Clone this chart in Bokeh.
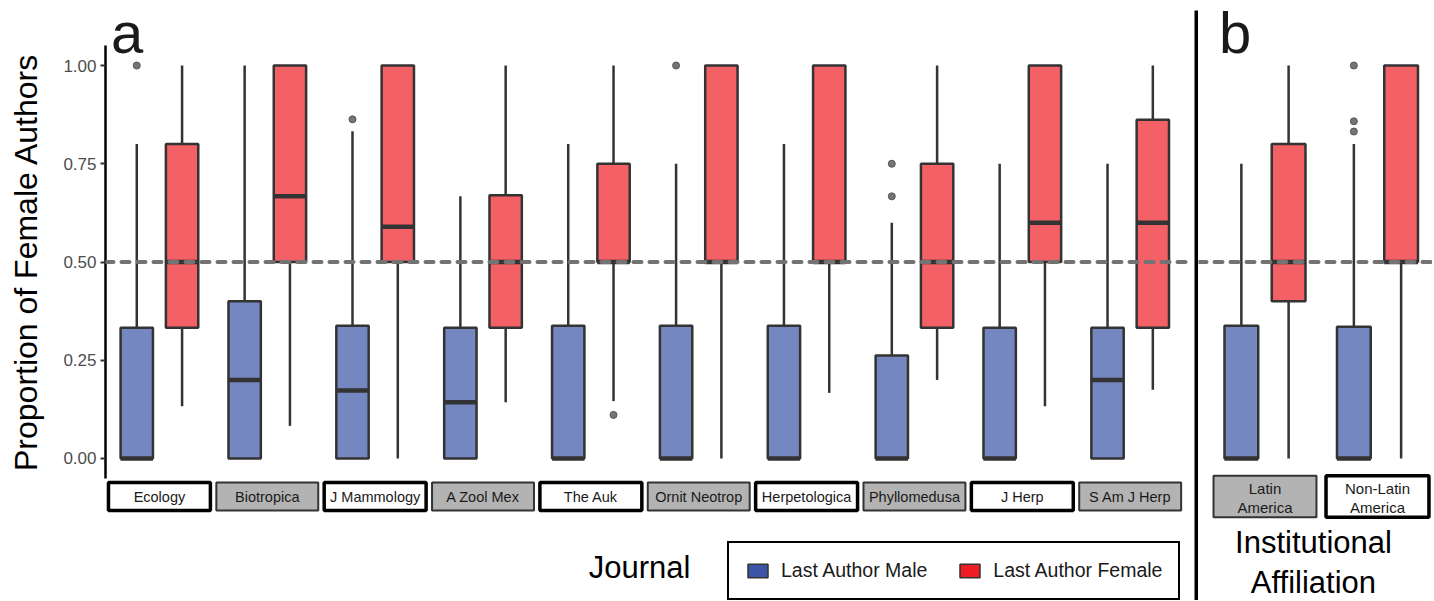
import numpy as np
from bokeh.plotting import figure
from bokeh.models import Range1d, Span, Label, Legend, LegendItem, FixedTicker, NumeralTickFormatter
from bokeh.layouts import row, column
from bokeh.embed import file_html
from bokeh.resources import INLINE
from bokeh.core.properties import value

# ---------------- data ----------------
journals = ["Ecology", "Biotropica", "J Mammology", "A Zool Mex", "The Auk",
            "Ornit Neotrop", "Herpetologica", "Phyllomedusa", "J Herp", "S Am J Herp"]
journal_strip_fill = ["white", "#B3B3B3"] * 5

# Last author male (blue)
male_lower = [0, 0, 0, 0, 0, 0, 0, 0, 0, 0]
male_q1 = [0, 0, 0, 0, 0, 0, 0, 0, 0, 0]
male_median = [0, 0.2, 0.173, 0.143, 0, 0, 0, 0, 0, 0.2]
male_q3 = [0.333, 0.4, 0.338, 0.333, 0.338, 0.338, 0.338, 0.262, 0.333, 0.333]
male_upper = [0.8, 1.0, 0.833, 0.667, 0.8, 0.75, 0.8, 0.6, 0.75, 0.75]
male_out_journal = ["Ecology", "J Mammology", "Ornit Neotrop", "Phyllomedusa", "Phyllomedusa"]
male_out_value = [1.0, 0.863, 1.0, 0.75, 0.667]

# Last author female (red)
female_lower = [0.133, 0.083, 0, 0.143, 0.146, 0, 0.167, 0.2, 0.133, 0.175]
female_q1 = [0.333, 0.5, 0.5, 0.333, 0.5, 0.5, 0.5, 0.333, 0.5, 0.333]
female_median = [0.5, 0.667, 0.59, 0.5, 0.5, 0.5, 0.5, 0.5, 0.6, 0.6]
female_q3 = [0.8, 1.0, 1.0, 0.67, 0.75, 1.0, 1.0, 0.75, 1.0, 0.862]
female_upper = [1.0, 1.0, 1.0, 1.0, 1.0, 1.0, 1.0, 1.0, 1.0, 1.0]
female_out_journal = ["The Auk"]
female_out_value = [0.111]

# Panel b: institutional affiliation
affil = ["Latin\nAmerica", "Non-Latin\nAmerica"]
affil_strip_fill = ["#B3B3B3", "white"]
aff_male_lower = [0, 0]
aff_male_q1 = [0, 0]
aff_male_median = [0, 0]
aff_male_q3 = [0.338, 0.335]
aff_male_upper = [0.75, 0.8]
aff_male_out_group = ["Non-Latin\nAmerica"] * 3
aff_male_out_value = [1.0, 0.858, 0.832]
aff_female_lower = [0, 0]
aff_female_q1 = [0.4, 0.5]
aff_female_median = [0.5, 0.5]
aff_female_q3 = [0.8, 1.0]
aff_female_upper = [1.0, 1.0]

y_ticks = [0, 0.25, 0.5, 0.75, 1.0]
reference_line = 0.5

# ---------------- style ----------------
BLUE = "#3B54A5"
RED = "#EE1D25"
EDGE = "#333333"
FONT = "Liberation Sans"
OFFSET = 0.21
BOX_W = 0.30
STRIP_Y = -0.0967


def draw_boxes(p, xs, lower, q1, med, q3, upper, color):
    xs = np.asarray(xs, dtype=float)
    p.segment(x0=xs, y0=q3, x1=xs, y1=upper, line_color=EDGE, line_width=2.5)
    p.segment(x0=xs, y0=lower, x1=xs, y1=q1, line_color=EDGE, line_width=2.5)
    p.vbar(x=xs, width=BOX_W, bottom=q1, top=q3, fill_color=color, fill_alpha=0.7,
           line_color=EDGE, line_width=2.5)
    p.segment(x0=xs - BOX_W / 2, y0=med, x1=xs + BOX_W / 2, y1=med,
              line_color=EDGE, line_width=4.5)


def draw_outliers(p, xs, vals):
    p.scatter(x=xs, y=vals, size=7, fill_color="#757575", line_color="#555555",
              line_width=1)


def style_common(p):
    p.outline_line_color = None
    p.xgrid.visible = False
    p.ygrid.visible = False
    p.background_fill_color = "white"
    p.border_fill_color = "white"


y_range = Range1d(-0.1654, 1.1654)

# ---------------- panel a ----------------
fig_a = figure(width=1194, height=523, x_range=Range1d(-0.5, 9.55), y_range=y_range,
               output_backend="svg", toolbar_location=None, title=None,
               min_border_left=105, min_border_right=5, min_border_top=0, min_border_bottom=0,
               x_axis_location=None)
style_common(fig_a)
idx = np.arange(len(journals))
jpos = {j: i for i, j in enumerate(journals)}
draw_boxes(fig_a, idx - OFFSET, male_lower, male_q1, male_median, male_q3, male_upper, BLUE)
draw_boxes(fig_a, idx + OFFSET, female_lower, female_q1, female_median, female_q3, female_upper, RED)
draw_outliers(fig_a, [jpos[j] - OFFSET for j in male_out_journal], male_out_value)
draw_outliers(fig_a, [jpos[j] + OFFSET for j in female_out_journal], female_out_value)

# facet strips under each journal
strip_lw = [3.5 if f == "white" else 2 for f in journal_strip_fill]
strip_lc = ["black" if f == "white" else EDGE for f in journal_strip_fill]
fig_a.rect(x=idx, y=STRIP_Y, width=0.945, height=0.0712, fill_color=journal_strip_fill,
           line_color=strip_lc, line_width=strip_lw)
fig_a.text(x=idx, y=STRIP_Y, text=journals, text_font=value(FONT), text_font_size="14.5px",
           text_align="center", text_baseline="middle", text_color="#1a1a1a")

yax = fig_a.yaxis[0]
yax.bounds = (-0.05, 1.05)
yax.ticker = FixedTicker(ticks=y_ticks)
yax.formatter = NumeralTickFormatter(format="0.00")
yax.minor_tick_line_color = None
yax.axis_line_color = "black"
yax.axis_line_width = 2.5
yax.major_tick_line_color = EDGE
yax.major_tick_line_width = 2
yax.major_tick_out = 5
yax.major_tick_in = 0
yax.major_label_text_font = FONT
yax.major_label_text_font_size = "17px"
yax.major_label_text_color = "#4D4D4D"
yax.major_label_standoff = 4
yax.axis_label = "Proportion of Female Authors"
yax.axis_label_text_font = FONT
yax.axis_label_text_font_size = "32px"
yax.axis_label_text_font_style = "normal"
yax.axis_label_text_color = "black"
yax.axis_label_standoff = 16

fig_a.add_layout(Span(location=reference_line, dimension="width", line_color="#737373",
                      line_width=4, line_dash="8 8", line_cap="round"))
fig_a.add_layout(Label(x=-0.449, y=1.0852, text="a", text_font=FONT, text_font_size="58px",
                       text_baseline="alphabetic", text_color="#1a1a1a"))

# bottom of panel a: axis title and legend
fig_a_bot = figure(width=1194, height=77, x_range=fig_a.x_range, y_range=Range1d(77, 0),
                   output_backend="svg", toolbar_location=None, title=None,
                   min_border_left=105, min_border_right=5, min_border_top=0, min_border_bottom=0,
                   x_axis_location=None, y_axis_location=None)
style_common(fig_a_bot)
fig_a_bot.text(x=[4.451], y=[44], text=["Journal"], text_font=value(FONT), text_font_size="31px",
               text_align="center", text_baseline="alphabetic", text_color="black")

# legend proxies (hidden copies of the boxes, only used for the legend keys)
r_m = fig_a_bot.vbar(x=idx - OFFSET, width=BOX_W, bottom=male_q1, top=male_q3,
                     fill_color=BLUE, line_color=EDGE, line_width=1.5, visible=False)
r_f = fig_a_bot.vbar(x=idx + OFFSET, width=BOX_W, bottom=female_q1, top=female_q3,
                     fill_color=RED, line_color=EDGE, line_width=1.5, visible=False)
legend = Legend(items=[LegendItem(label="Last Author Male", renderers=[r_m]),
                       LegendItem(label="Last Author Female", renderers=[r_f])],
                location=(622, 0), orientation="horizontal",
                label_text_font=FONT, label_text_font_size="19.5px", label_text_color="#1a1a1a",
                glyph_width=25, glyph_height=17, label_standoff=11, spacing=30,
                padding=16, margin=0, border_line_color="black", border_line_width=2.5,
                border_line_alpha=1.0,
                background_fill_color="white", background_fill_alpha=1.0,
                inactive_fill_alpha=0.0)
fig_a_bot.add_layout(legend)

# ---------------- separator ----------------
sep = figure(width=4, height=600, output_backend="svg", toolbar_location=None, title=None,
             min_border_left=0, min_border_right=0, min_border_top=10, min_border_bottom=0,
             x_axis_location=None, y_axis_location=None,
             background_fill_color="black", border_fill_color="white")
sep.outline_line_color = None
sep.xgrid.visible = False
sep.ygrid.visible = False

# ---------------- panel b ----------------
fig_b = figure(width=234, height=523, x_range=Range1d(-0.591, 1.489), y_range=y_range,
               output_backend="svg", toolbar_location=None, title=None,
               min_border_left=0, min_border_right=0, min_border_top=0, min_border_bottom=0,
               x_axis_location=None, y_axis_location=None)
style_common(fig_b)
aidx = np.arange(len(affil))
apos = {a: i for i, a in enumerate(affil)}
draw_boxes(fig_b, aidx - OFFSET, aff_male_lower, aff_male_q1, aff_male_median, aff_male_q3,
           aff_male_upper, BLUE)
draw_boxes(fig_b, aidx + OFFSET, aff_female_lower, aff_female_q1, aff_female_median,
           aff_female_q3, aff_female_upper, RED)
draw_outliers(fig_b, [apos[a] - OFFSET for a in aff_male_out_group], aff_male_out_value)

astrip_lw = [3.5 if f == "white" else 2 for f in affil_strip_fill]
astrip_lc = ["black" if f == "white" else EDGE for f in affil_strip_fill]
fig_b.rect(x=aidx, y=STRIP_Y, width=0.915, height=0.105, fill_color=affil_strip_fill,
           line_color=astrip_lc, line_width=astrip_lw)
fig_b.text(x=aidx, y=STRIP_Y - 0.003, text=affil, text_font=value(FONT), text_font_size="15px",
           text_align="center", text_baseline="middle", text_color="#1a1a1a",
           text_line_height=1.1)

fig_b.add_layout(Span(location=reference_line, dimension="width", line_color="#737373",
                      line_width=4, line_dash="8 8", line_cap="round"))
fig_b.add_layout(Label(x=-0.409, y=1.084, text="b", text_font=FONT, text_font_size="58px",
                       text_baseline="alphabetic", text_color="#1a1a1a"))

fig_b_bot = figure(width=234, height=77, x_range=fig_b.x_range, y_range=Range1d(77, 0),
                   output_backend="svg", toolbar_location=None, title=None,
                   min_border=0, x_axis_location=None, y_axis_location=None)
style_common(fig_b_bot)
fig_b_bot.text(x=[0.431], y=[39], text=["Institutional\nAffiliation"], text_font=value(FONT),
               text_font_size="31px", text_align="center", text_baseline="middle",
               text_color="black", text_line_height=1.15)

layout = row(column(fig_a, fig_a_bot), sep, column(fig_b, fig_b_bot))

open("out.html", "w").write(file_html(layout, INLINE))
